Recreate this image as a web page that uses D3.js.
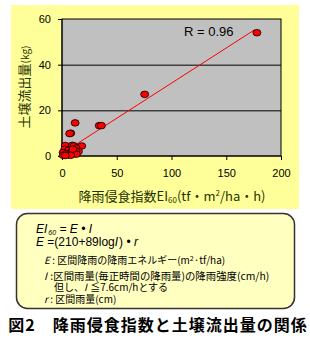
<!DOCTYPE html>
<html>
<head>
<meta charset="utf-8">
<script src="https://cdn.jsdelivr.net/npm/d3@7"></script>
<style>
  body { margin: 0; background: #fff; }
  svg { display: block; }
</style>
</head>
<body>
<div id="chart"></div>
<script>
// erosion index (x) vs soil loss in kg (y)
const erosionIndex = [178, 75.5, 34, 36, 12, 8, 7, 18, 3, 9.5, 11, 13, 2.5, 6, 9, 15, 12.5, 1, 4, 11, 13, 1, 5.5, 8, 3, 10];
const soilLoss     = [54, 27, 13.3, 13.3, 14.5, 10, 9.8, 4.4, 4.6, 4.7, 4.4, 3.5, 3, 2.5, 2, 2, 2.3, 1.5, 1, 1, 0.8, 0.3, 0.5, 0.3, 0.2, 3];
const trendX = [0.5, 176];
const trendY = [1.3, 55.3];
const xTicks = [0, 50, 100, 150, 200];
const yTicks = [0, 20, 40, 60];
const rLabel = "R = 0.96";

const width = 310, height = 341;
const green = "#1f3300";

const svg = d3.select("#chart").append("svg")
  .attr("width", width)
  .attr("height", height)
  .style("font-family", "Arial, 'Liberation Sans', sans-serif");

// chart background
svg.append("rect")
  .attr("x", 11).attr("y", 5)
  .attr("width", 288).attr("height", 204)
  .attr("fill", "#ffff99");

let x = d3.scaleLinear().domain([0, 200]).range([62, 281]);
let y = d3.scaleLinear().domain([0, 60]).range([156, 19]);

svg.append("rect")
  .attr("x", x(0)).attr("y", y(60))
  .attr("width", x(200) - x(0)).attr("height", y(0) - y(60))
  .attr("fill", "#c0c0c0")
  .attr("stroke", "#000")
  .attr("stroke-width", 1);

// gridlines
svg.append("g")
  .selectAll("line")
  .data(yTicks.slice(1, -1))
  .join("line")
  .attr("x1", x(0)).attr("x2", x(200))
  .attr("y1", d => y(d) + 0.5).attr("y2", d => y(d) + 0.5)
  .attr("stroke", "#000");

let xAxis = g => g
  .attr("transform", `translate(0,${y(0)})`)
  .call(d3.axisBottom(x).tickValues(xTicks).tickSize(4).tickPadding(9))
  .call(g => g.selectAll("text").attr("font-size", 11).attr("fill", "#000"))
  .call(g => g.selectAll("line,path").attr("stroke", "#000"))
  .call(g => g.select(".domain").attr("d", `M${x(0)},0H${x(200)}`));

let yAxis = g => g
  .attr("transform", `translate(${x(0)},0)`)
  .call(d3.axisLeft(y).tickValues(yTicks).tickSize(4).tickPadding(7))
  .call(g => g.selectAll("text").attr("font-size", 11).attr("fill", "#000"))
  .call(g => g.selectAll("line,path").attr("stroke", "#000"))
  .call(g => g.select(".domain").attr("d", `M0,${y(0)}V${y(60)}`));

svg.append("g").call(xAxis);
svg.append("g").call(yAxis);

// trend line
svg.append("path")
  .datum(d3.zip(trendX, trendY))
  .attr("d", d3.line().x(d => x(d[0])).y(d => y(d[1])))
  .attr("stroke", "#ff0000")
  .attr("stroke-width", 1)
  .attr("fill", "none");

// points
svg.append("g")
  .selectAll("ellipse")
  .data(d3.zip(erosionIndex, soilLoss))
  .join("ellipse")
  .attr("cx", d => x(d[0]))
  .attr("cy", d => y(d[1]))
  .attr("rx", 4)
  .attr("ry", 3.3)
  .attr("fill", "#ff0000")
  .attr("stroke", "#000")
  .attr("stroke-width", 0.8);

svg.append("text")
  .attr("x", 184).attr("y", 36)
  .attr("font-size", 13)
  .attr("fill", "#000")
  .text(rLabel);

// axis titles
let yt = svg.append("text")
  .attr("transform", "translate(29,87) rotate(-90)")
  .attr("text-anchor", "middle")
  .attr("fill", green)
  .style("font-family", "'Noto Sans CJK JP', sans-serif")
  .attr("font-size", 13);
yt.append("tspan").text("土壌流出量");
yt.append("tspan").attr("font-size", 10).text("(kg)");

let xt = svg.append("text")
  .attr("x", 172).attr("y", 201)
  .attr("text-anchor", "middle")
  .attr("fill", green)
  .style("font-family", "'Noto Sans CJK JP', sans-serif")
  .attr("font-size", 13);
xt.append("tspan").text("降雨侵食指数EI");
xt.append("tspan").attr("font-size", 8).attr("dy", 2).text("60");
xt.append("tspan").attr("dy", -2).text("(tf・m");
xt.append("tspan").attr("font-size", 8).attr("dy", -5).text("2");
xt.append("tspan").attr("dy", 5).text("/ha・h)");

// formula box
svg.append("rect")
  .attr("x", 16.5).attr("y", 213.5)
  .attr("width", 278).attr("height", 95)
  .attr("rx", 11)
  .attr("fill", "#ffffc0")
  .attr("stroke", "#333")
  .attr("stroke-width", 1.5);

let box = svg.append("g")
  .style("font-family", "'Noto Sans CJK JP', sans-serif")
  .attr("fill", "#000");

let l1 = box.append("text").attr("x", 36).attr("y", 233).attr("font-size", 12)
  .style("font-family", "Arial, 'Liberation Sans', sans-serif");
l1.append("tspan").attr("font-style", "italic").text("EI");
l1.append("tspan").attr("font-style", "italic").attr("font-size", 7).attr("dx", 1).attr("dy", 2).text("60");
l1.append("tspan").attr("dy", -2).attr("font-style", "italic").text(" = E • I");

let l2 = box.append("text").attr("x", 36).attr("y", 246).attr("font-size", 12)
  .style("font-family", "Arial, 'Liberation Sans', sans-serif");
l2.append("tspan").attr("font-style", "italic").text("E");
l2.append("tspan").text(" =(210+89log");
l2.append("tspan").attr("font-style", "italic").text("I");
l2.append("tspan").attr("dx", 1).text(") • ");
l2.append("tspan").attr("font-style", "italic").text("r");

let l3 = box.append("text").attr("x", 44).attr("y", 264).attr("font-size", 10);
l3.append("tspan").attr("font-style", "italic").text("E");
l3.append("tspan").text(" : 区間降雨の降雨エネルギー(m");
l3.append("tspan").attr("font-size", 7).attr("dy", -3).text("2");
l3.append("tspan").attr("dy", 3).text("·tf/ha)");

let l4 = box.append("text").attr("x", 44).attr("y", 280).attr("font-size", 10.4);
l4.append("tspan").attr("font-style", "italic").text("I");
l4.append("tspan").attr("dx", 1).text(" :区間雨量(毎正時間の降雨量)の降雨強度(cm/h)");

let l5 = box.append("text").attr("x", 54).attr("y", 291).attr("font-size", 10);
l5.append("tspan").text("但し、");
l5.append("tspan").attr("font-style", "italic").text("I");
l5.append("tspan").attr("dx", 1).text(" ≦7.6cm/hとする");

let l6 = box.append("text").attr("x", 44).attr("y", 303).attr("font-size", 10);
l6.append("tspan").attr("font-style", "italic").text("r");
l6.append("tspan").text(" : 区間雨量(cm)");

// caption
svg.append("text")
  .attr("x", 158).attr("y", 331)
  .attr("text-anchor", "middle")
  .attr("font-size", 16)
  .attr("font-weight", "bold")
  .attr("letter-spacing", 1)
  .style("font-family", "'Noto Sans CJK JP', sans-serif")
  .attr("fill", "#000")
  .text("図2　降雨侵食指数と土壌流出量の関係");
</script>
</body>
</html>
